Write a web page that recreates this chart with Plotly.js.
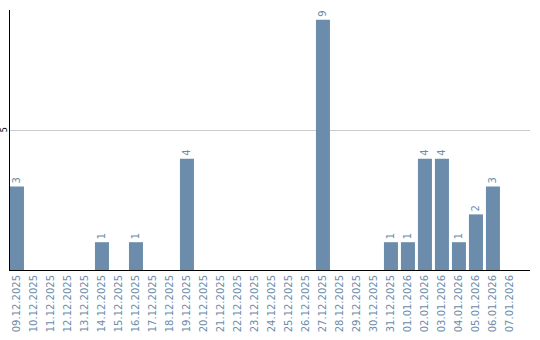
<!DOCTYPE html>
<html><head><meta charset="utf-8">
<script src="https://cdn.plot.ly/plotly-3.0.1.min.js"></script>
<style>html,body{margin:0;padding:0;background:#fff}#c{width:540px;height:340px}</style>
</head><body><div id="c"></div>
<script>
var dates = ["09.12.2025","10.12.2025","11.12.2025","12.12.2025","13.12.2025","14.12.2025","15.12.2025","16.12.2025","17.12.2025","18.12.2025","19.12.2025","20.12.2025","21.12.2025","22.12.2025","23.12.2025","24.12.2025","25.12.2025","26.12.2025","27.12.2025","28.12.2025","29.12.2025","30.12.2025","31.12.2025","01.01.2026","02.01.2026","03.01.2026","04.01.2026","05.01.2026","06.01.2026","07.01.2026"];
var counts = [3,0,0,0,0,1,0,1,0,0,4,0,0,0,0,0,0,0,9,0,0,0,1,1,4,4,1,2,3,0];
var labels = counts.map(function(v){return v>0?String(v):"";});
var yTickVals = [5];
var yTickText = ["5"];
var barColor = "#6b8cab";
Plotly.newPlot("c", [{
  type:"bar", x:dates, y:counts, text:labels, textposition:"outside", textangle:-90,
  cliponaxis:false,
  textfont:{color:barColor, size:10, family:"DejaVu Sans"},
  marker:{color:barColor}, hoverinfo:"none"
}], {
  width:540, height:340,
  margin:{l:10, r:10, t:10, b:70},
  paper_bgcolor:"#fff", plot_bgcolor:"#fff",
  bargap:0.176, showlegend:false,
  xaxis:{type:"category", range:[-0.41,30.18], showline:true, linecolor:"#000", linewidth:1,
    tickangle:-90, tickfont:{color:barColor, size:10, family:"DejaVu Sans"}, ticks:"", showgrid:false, automargin:false},
  yaxis:{range:[0,9.35], showline:true, linecolor:"#000", linewidth:1,
    gridcolor:"#cccccc", zeroline:false, ticks:"", tickangle:-90, showticklabels:true,
    ticklabelstandoff:-1,
    tickfont:{color:"#000", size:8, family:"DejaVu Sans"}, automargin:false,
    tickvals:yTickVals, ticktext:yTickText}
}, {displayModeBar:false, staticPlot:true});
</script></body></html>
